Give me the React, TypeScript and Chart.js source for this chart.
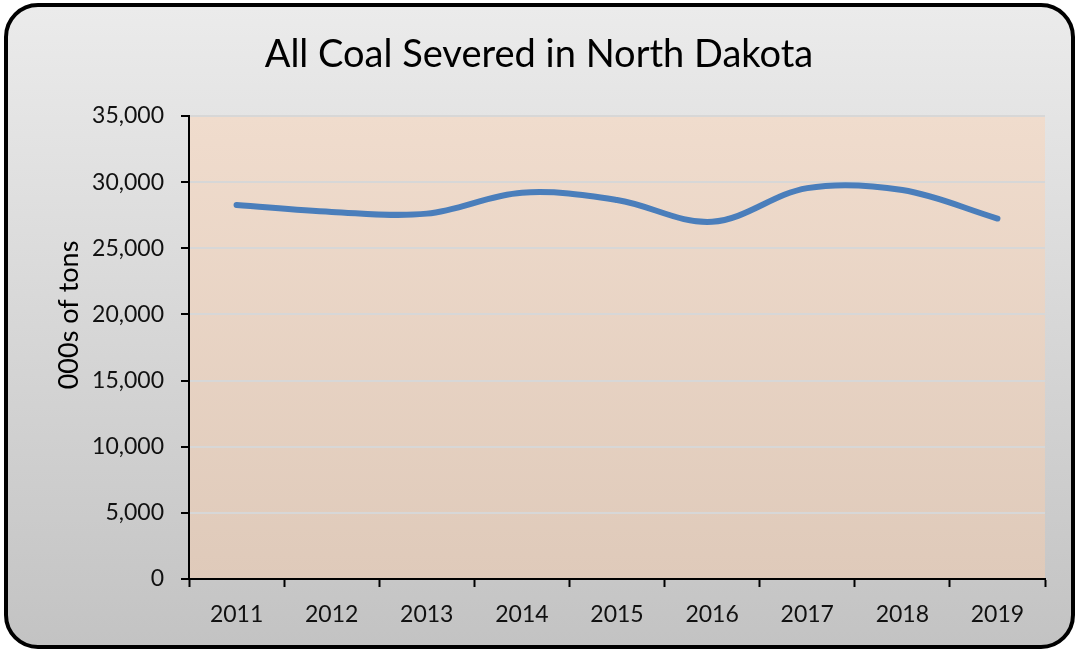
import React, { useEffect, useRef } from "react";
import { Chart, registerables } from "chart.js";

Chart.register(...registerables);

const years = ["2011", "2012", "2013", "2014", "2015", "2016", "2017", "2018", "2019"];
const coalSevered = [28270, 27750, 27620, 29200, 28650, 27000, 29550, 29400, 27250];
const yMin = 0;
const yMax = 35000;
const yStep = 5000;
const chartTitle = "All Coal Severed in North Dakota";
const yAxisTitle = "000s of tons";

const FONT = "Lato, 'Open Sans', sans-serif";

const plotBg = {
  id: "plotBg",
  beforeDraw(chart: any) {
    const { ctx, chartArea } = chart;
    if (!chartArea) return;
    const g = ctx.createLinearGradient(0, chartArea.top, 0, chartArea.bottom);
    g.addColorStop(0, "#f0dccd");
    g.addColorStop(1, "#dfcaba");
    ctx.save();
    ctx.fillStyle = g;
    ctx.fillRect(chartArea.left, chartArea.top, chartArea.right - chartArea.left, chartArea.bottom - chartArea.top);
    ctx.restore();
  },
};

const yTitlePlugin = {
  id: "yTitlePlugin",
  afterDraw(chart: any) {
    const { ctx } = chart;
    ctx.save();
    ctx.translate(69, 315);
    ctx.rotate(-Math.PI / 2);
    ctx.font = `27px ${FONT}`;
    ctx.fillStyle = "#000";
    ctx.textAlign = "center";
    ctx.textBaseline = "middle";
    ctx.fillText(yAxisTitle, 0, 0);
    ctx.restore();
  },
};

export default function App() {
  const ref = useRef<HTMLCanvasElement | null>(null);
  useEffect(() => {
    if (!ref.current) return;
    const chart = new Chart(ref.current, {
      type: "line",
      data: {
        labels: years,
        datasets: [
          {
            data: coalSevered,
            borderColor: "#4a7ebb",
            borderWidth: 6,
            pointRadius: 0,
            tension: 0.35,
            borderCapStyle: "round",
            fill: false,
          },
        ],
      },
      options: {
        responsive: false,
        animation: false,
        layout: { padding: { left: 0, right: 0, top: 0, bottom: 0 } },
        plugins: {
          legend: { display: false },
          tooltip: { enabled: false },
          title: {
            display: true,
            text: chartTitle,
            color: "#000",
            font: { family: FONT, size: 38, weight: "normal", lineHeight: 1.2 },
            padding: { top: 32, bottom: 38.4 },
          },
        },
        scales: {
          x: {
            type: "category",
            offset: true,
            grid: {
              offset: true,
              drawOnChartArea: false,
              drawTicks: true,
              tickLength: 8,
              tickColor: "#000",
              tickWidth: 2,
            },
            border: { display: true, color: "#000", width: 2 },
            ticks: {
              color: "#111",
              font: { family: FONT, size: 23 },
              padding: 14,
              maxRotation: 0,
            },
            afterFit: (s: any) => {
              s.height = 73;
            },
          },
          y: {
            min: yMin,
            max: yMax,
            grid: {
              color: "#d7d7d7",
              lineWidth: 2,
              drawTicks: true,
              tickLength: 8,
              tickColor: "#000",
              tickWidth: 2,
            },
            border: { display: true, color: "#000", width: 2 },
            ticks: {
              stepSize: yStep,
              color: "#111",
              font: { family: FONT, size: 23 },
              padding: 17,
            },
            afterFit: (s: any) => {
              s.width = 189;
            },
          },
          yRight: {
            position: "right",
            min: yMin,
            max: yMax,
            grid: { display: false, drawTicks: false },
            border: { display: false },
            ticks: { display: false },
            afterFit: (s: any) => {
              s.width = 33;
            },
          },
        },
      },
      plugins: [plotBg, yTitlePlugin],
    });
    return () => chart.destroy();
  }, []);

  return (
    <div style={{ position: "fixed", left: 0, top: 0, width: 1078, height: 652 }}>
      <div
        style={{
          position: "absolute",
          left: 4,
          top: 3,
          width: 1071,
          height: 646,
          boxSizing: "border-box",
          border: "4px solid #000",
          borderRadius: 34,
          background: "linear-gradient(#ebebeb, #c3c3c3)",
        }}
      />
      <canvas
        ref={ref}
        width={1078}
        height={652}
        style={{ position: "absolute", left: 0, top: 0, width: 1078, height: 652 }}
      />
    </div>
  );
}
